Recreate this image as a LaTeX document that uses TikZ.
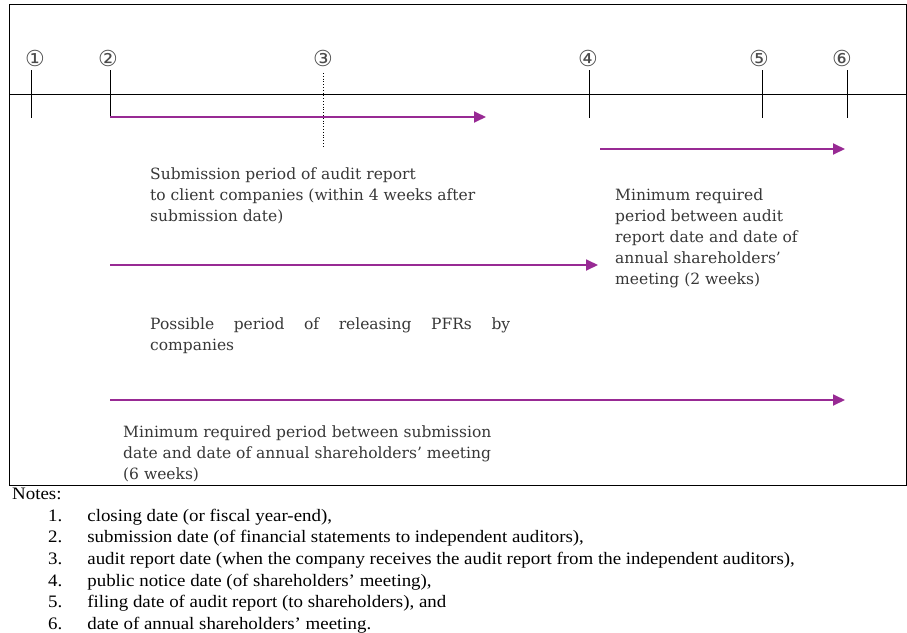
\documentclass[tikz,border=0pt]{standalone}
\usepackage{fontspec}
\setmainfont{Liberation Serif}
\newfontfamily\notefont[FakeStretch=1.08]{Liberation Serif}
\newfontfamily\boxfont{DejaVu Serif}
\newfontfamily\circfont{DejaVu Sans}
\usetikzlibrary{arrows.meta,positioning}
\definecolor{spanpurple}{RGB}{152,42,148}
\definecolor{labelgray}{RGB}{55,55,55}

\tikzset{
  span/.style={draw=spanpurple, line width=1.8pt, -{Triangle[length=12pt,width=11pt]}},
  datetick/.style={draw=black, line width=0.8pt},
  circnum/.style={font=\circfont\fontsize{22}{22}\selectfont, text=black!70, inner sep=0pt},
  spantext/.style={font=\boxfont\fontsize{15.5}{21}\selectfont, text=labelgray, align=left, anchor=north west, inner sep=0pt},
  notetext/.style={font=\notefont\fontsize{17.5}{21.6}\selectfont, anchor=north west, inner sep=0pt}
}

\begin{document}
\begin{tikzpicture}[x=1pt,y=-1pt]
\useasboundingbox (0,0) rectangle (907,632);

% Frame and time line
\draw[line width=0.8pt] (9,4) rectangle (906,485);
\coordinate (lineL) at (9,94);
\coordinate (lineR) at (906,94);
\draw[line width=0.8pt] (lineL) -- (lineR);

% Dates on the time line
\foreach \n/\x/\lx/\sym in {1/31/35/①, 2/110/108/②, 4/589/588/④, 5/762/759/⑤, 6/847/842/⑥} {
    \node[circnum] (c\n) at (\lx,58) {\sym};
    \coordinate (t\n) at (\x,70);
    \coordinate (b\n) at (\x,118);
    \draw[datetick] (t\n) -- (b\n);
}
\node[circnum] (c3) at (323,58) {③};
\coordinate (t3) at (323,73);
\coordinate (b3) at (323,146);
\draw[datetick, dotted] (t3) -- (b3);

% Periods
\coordinate (s1) at (110,117);
\coordinate (e1) at (486,117);
\draw[span] (s1) -- (e1);
\node[spantext] (p1) at (150,168) {Submission period of audit report\\
to client companies (within 4 weeks after\\
submission date)};

\coordinate (s2) at (600,149);
\coordinate (e2) at (845,149);
\draw[span] (s2) -- (e2);
\node[spantext] (p2) at (615,189) {Minimum required\\
period between audit\\
report date and date of\\
annual shareholders’\\
meeting (2 weeks)};

\coordinate (s3) at (110,265);
\coordinate (e3) at (598,265);
\draw[span] (s3) -- (e3);
\node[spantext, text width=360pt, align=justify] (p3) at (150,318) {Possible period of releasing PFRs by\linebreak companies};

\coordinate (s4) at (110,400);
\coordinate (e4) at (845,400);
\draw[span] (s4) -- (e4);
\node[spantext] (p4) at (123,426) {Minimum required period between submission\\
date and date of annual shareholders’ meeting\\
(6 weeks)};

% Notes
\node[notetext] (notes) at (12,488) {Notes:};
\node[notetext] (notelist) at (48,506) {%
\begin{tabular}{@{}r@{\hspace{25pt}}l@{}}
1. & closing date (or fiscal year-end),\\
2. & submission date (of financial statements to independent auditors),\\
3. & audit report date (when the company receives the audit report from the independent auditors),\\
4. & public notice date (of shareholders’ meeting),\\
5. & filing date of audit report (to shareholders), and\\
6. & date of annual shareholders’ meeting.
\end{tabular}};

\end{tikzpicture}
\end{document}
